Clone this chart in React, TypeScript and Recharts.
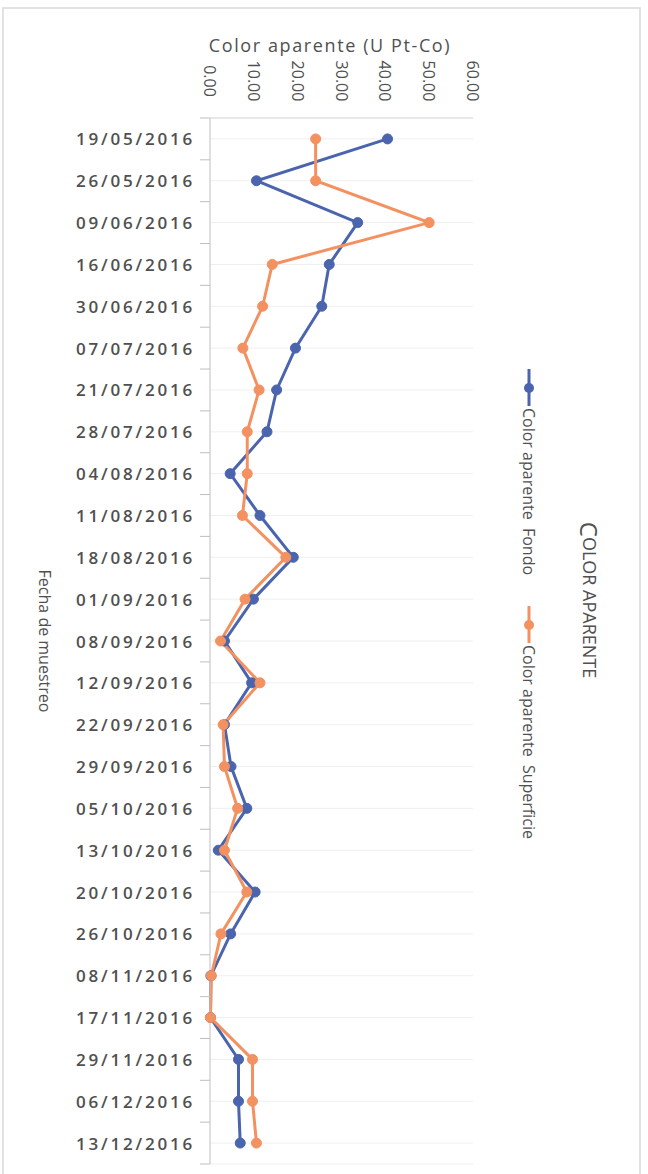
import React from 'react';
import { LineChart, Line, XAxis, YAxis, CartesianGrid } from 'recharts';

const dates = [
  '19/05/2016', '26/05/2016', '09/06/2016', '16/06/2016', '30/06/2016',
  '07/07/2016', '21/07/2016', '28/07/2016', '04/08/2016', '11/08/2016',
  '18/08/2016', '01/09/2016', '08/09/2016', '12/09/2016', '22/09/2016',
  '29/09/2016', '05/10/2016', '13/10/2016', '20/10/2016', '26/10/2016',
  '08/11/2016', '17/11/2016', '29/11/2016', '06/12/2016', '13/12/2016',
];
const fondo = [
  40.5, 10.6, 33.7, 27.2, 25.5, 19.5, 15.2, 13.0, 4.6, 11.4,
  19.0, 9.9, 3.3, 9.5, 3.3, 4.8, 8.4, 1.9, 10.3, 4.7,
  0.2, 0.1, 6.5, 6.5, 6.9,
];
const superficie = [
  24.1, 24.1, 50.0, 14.2, 12.0, 7.5, 11.2, 8.5, 8.5, 7.4,
  17.3, 8.0, 2.4, 11.4, 3.0, 3.3, 6.3, 3.3, 8.4, 2.5,
  0.3, 0.1, 9.7, 9.7, 10.6,
];
const xTicks = [0, 10, 20, 30, 40, 50, 60];
const seriesNames = ['Color aparente  Fondo', 'Color aparente  Superficie'];
const seriesColors = ['#4a64ad', '#f39160'];
const chartTitleFirst = 'C';
const chartTitleRest = 'OLOR APARENTE';
const xAxisTitle = 'Color aparente (U Pt-Co)';
const yAxisTitle = 'Fecha de muestreo';

const data = dates.map((d, i) => ({ date: d, fondo: fondo[i], superficie: superficie[i] }));

const W = 648;
const H = 1174;
const TOP = 118;
const BOTTOM = 10;
const LEFT = 210;
const RIGHT = 175;
const PLOT_H = H - TOP - BOTTOM;
const HALF_BAND = PLOT_H / dates.length / 2;
const FONT = '"Open Sans", sans-serif';
const GRAY = '#505050';

const XTick = (props: any) => {
  const { x, payload } = props;
  const cy = 81;
  return (
    <text
      x={x}
      y={cy}
      transform={`rotate(90, ${x}, ${cy})`}
      textAnchor="middle"
      dominantBaseline="central"
      fill={GRAY}
      fontSize={16}
      fontFamily={FONT}
    >
      {Number(payload.value).toFixed(2)}
    </text>
  );
};

const YTick = (props: any) => {
  const { y, payload, index } = props;
  const ax = LEFT;
  const last = index === dates.length - 1;
  return (
    <g>
      <line x1={ax - 10} x2={ax} y1={y - HALF_BAND} y2={y - HALF_BAND} stroke="#bfbfbf" strokeWidth={1} />
      {last && (
        <line x1={ax - 10} x2={ax} y1={y + HALF_BAND} y2={y + HALF_BAND} stroke="#bfbfbf" strokeWidth={1} />
      )}
      <text
        x={ax - 15}
        y={y}
        textAnchor="end"
        dominantBaseline="central"
        fill={GRAY}
        fontSize={17}
        fontWeight={600}
        letterSpacing={2.8}
        fontFamily={FONT}
      >
        {payload.value}
      </text>
    </g>
  );
};

const legendPos = [
  { cy: 388 },
  { cy: 625 },
];

export default function App() {
  return (
    <div style={{ position: 'absolute', left: 0, top: 0, width: W, height: H, background: '#fff' }}>
      <LineChart
        width={W}
        height={H}
        data={data}
        layout="vertical"
        margin={{ top: 0, right: RIGHT, bottom: BOTTOM, left: 0 }}
      >
        <CartesianGrid vertical={false} horizontal={true} stroke="#efefef" />
        <XAxis
          type="number"
          orientation="top"
          domain={[0, 60]}
          ticks={xTicks}
          height={TOP}
          axisLine={{ stroke: '#d9d9d9' }}
          tickLine={false}
          tick={<XTick />}
          interval={0}
        />
        <YAxis
          type="category"
          dataKey="date"
          width={LEFT}
          axisLine={{ stroke: '#bfbfbf' }}
          tickLine={false}
          tick={<YTick />}
          interval={0}
          padding={{ top: HALF_BAND, bottom: HALF_BAND }}
        />
        <Line
          dataKey="fondo"
          name={seriesNames[0]}
          stroke={seriesColors[0]}
          strokeWidth={3}
          dot={{ r: 5, fill: seriesColors[0], stroke: seriesColors[0], strokeWidth: 1 }}
          isAnimationActive={false}
        />
        <Line
          dataKey="superficie"
          name={seriesNames[1]}
          stroke={seriesColors[1]}
          strokeWidth={3}
          dot={{ r: 5, fill: seriesColors[1], stroke: seriesColors[1], strokeWidth: 1 }}
          isAnimationActive={false}
        />
      </LineChart>
      <svg
        width={W}
        height={H}
        style={{ position: 'absolute', left: 0, top: 0, pointerEvents: 'none' }}
      >
        <rect x={3} y={8} width={637} height={H} fill="none" stroke="#d9d9d9" strokeWidth={1.5} />
        <text
          x={330}
          y={45}
          textAnchor="middle"
          dominantBaseline="central"
          fill={GRAY}
          fontSize={18}
          letterSpacing={1.6}
          fontFamily={FONT}
        >
          {xAxisTitle}
        </text>
        <text
          x={45}
          y={641}
          transform="rotate(90, 45, 641)"
          textAnchor="middle"
          dominantBaseline="central"
          fill={GRAY}
          fontSize={16}
          fontFamily={FONT}
        >
          {yAxisTitle}
        </text>
        <text
          x={590}
          y={600}
          transform="rotate(90, 590, 600)"
          textAnchor="middle"
          dominantBaseline="central"
          fill={GRAY}
          fontFamily={FONT}
        >
          <tspan fontSize={24}>{chartTitleFirst}</tspan>
          <tspan fontSize={18}>{chartTitleRest}</tspan>
        </text>
        {seriesNames.map((name, i) => {
          const cy = legendPos[i].cy;
          const x = 529;
          return (
            <g key={name}>
              <line x1={x} x2={x} y1={cy - 19} y2={cy + 18} stroke={seriesColors[i]} strokeWidth={3} />
              <circle cx={x} cy={cy} r={5} fill={seriesColors[i]} />
              <text
                x={x}
                y={cy + 20}
                transform={`rotate(90, ${x}, ${cy + 20})`}
                textAnchor="start"
                dominantBaseline="central"
                fill={GRAY}
                fontSize={16}
                fontFamily={FONT}
                style={{ whiteSpace: 'pre' }}
              >
                {name}
              </text>
            </g>
          );
        })}
      </svg>
    </div>
  );
}
